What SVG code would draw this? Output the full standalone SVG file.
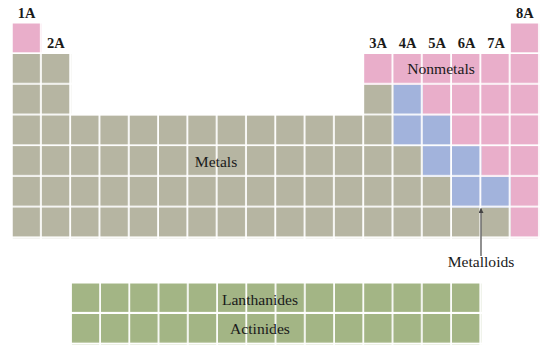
<svg xmlns="http://www.w3.org/2000/svg" width="545" height="360" viewBox="0 0 545 360">
<style>
.lbl{font-family:"Liberation Serif","Times New Roman",serif;font-weight:bold;font-size:14.5px;fill:#1a1a1a;text-anchor:middle}
.reg{font-family:"Liberation Serif","Times New Roman",serif;font-size:15.6px;fill:#1a1a1a;text-anchor:middle}
.conn{stroke:#555;stroke-width:1.3;fill:none}
</style>
<defs>
<pattern id="pGray" patternUnits="userSpaceOnUse" x="12.5" y="23.3" width="29.3" height="30.7"><rect width="27.5" height="29" fill="#b6b5a2"/></pattern>
<pattern id="pPink" patternUnits="userSpaceOnUse" x="12.5" y="23.3" width="29.3" height="30.7"><rect width="27.5" height="29" fill="#e9aeca"/></pattern>
<pattern id="pBlue" patternUnits="userSpaceOnUse" x="12.5" y="23.3" width="29.3" height="30.7"><rect width="27.5" height="29" fill="#a2b3dc"/></pattern>
<pattern id="pGreen" patternUnits="userSpaceOnUse" x="71.7" y="283.3" width="29.25" height="30.7"><rect width="27.5" height="28.6" fill="#a3b585"/></pattern>
<marker id="ah" viewBox="0 0 10 10" refX="9" refY="5" markerWidth="5" markerHeight="5" orient="auto" markerUnits="userSpaceOnUse"><path d="M0,0 L10,5 L0,10 z" fill="#444"/></marker>
</defs>
<rect width="545" height="360" fill="#ffffff"/>
<g id="metals">
<rect x="12.5" y="54" width="58.6" height="61.4" fill="url(#pGray)"/>
<rect x="12.5" y="115.4" width="351.6" height="122.8" fill="url(#pGray)"/>
<rect x="364.1" y="84.7" width="29.3" height="153.5" fill="url(#pGray)"/>
<rect x="393.4" y="146.1" width="29.3" height="92.1" fill="url(#pGray)"/>
<rect x="422.7" y="176.8" width="29.3" height="61.4" fill="url(#pGray)"/>
<rect x="452" y="207.5" width="58.6" height="30.7" fill="url(#pGray)"/>
<text class="reg" x="216" y="166.5">Metals</text>
</g>
<g id="nonmetals">
<rect x="12.5" y="23.3" width="29.3" height="30.7" fill="url(#pPink)"/>
<rect x="510.6" y="23.3" width="29.3" height="214.9" fill="url(#pPink)"/>
<rect x="364.1" y="54" width="146.5" height="30.7" fill="url(#pPink)"/>
<rect x="422.7" y="84.7" width="87.9" height="30.7" fill="url(#pPink)"/>
<rect x="452" y="115.4" width="58.6" height="30.7" fill="url(#pPink)"/>
<rect x="481.3" y="146.1" width="29.3" height="30.7" fill="url(#pPink)"/>
<text class="reg" x="441" y="73.5">Nonmetals</text>
</g>
<g id="metalloids">
<rect x="393.4" y="84.7" width="29.3" height="30.7" fill="url(#pBlue)"/>
<rect x="393.4" y="115.4" width="58.6" height="30.7" fill="url(#pBlue)"/>
<rect x="422.7" y="146.1" width="58.6" height="30.7" fill="url(#pBlue)"/>
<rect x="452" y="176.8" width="58.6" height="30.7" fill="url(#pBlue)"/>
<text class="reg" x="481" y="267">Metalloids</text>
</g>
<g id="lanthanides">
<rect x="71.7" y="283.3" width="409.5" height="30.7" fill="url(#pGreen)"/>
<text class="reg" x="260" y="305">Lanthanides</text>
</g>
<g id="actinides">
<rect x="71.7" y="314" width="409.5" height="30.7" fill="url(#pGreen)"/>
<text class="reg" x="260" y="334">Actinides</text>
</g>
<g id="group-labels">
<text class="lbl" x="26.5" y="18">1A</text>
<text class="lbl" x="55.8" y="48">2A</text>
<text class="lbl" x="378" y="48">3A</text>
<text class="lbl" x="407.5" y="48">4A</text>
<text class="lbl" x="437" y="48">5A</text>
<text class="lbl" x="466.5" y="48">6A</text>
<text class="lbl" x="496" y="48">7A</text>
<text class="lbl" x="524.8" y="18">8A</text>
</g>
<g id="connectors">
<line class="conn" x1="481" y1="256" x2="481" y2="208.5" marker-end="url(#ah)"/>
</g>
</svg>
